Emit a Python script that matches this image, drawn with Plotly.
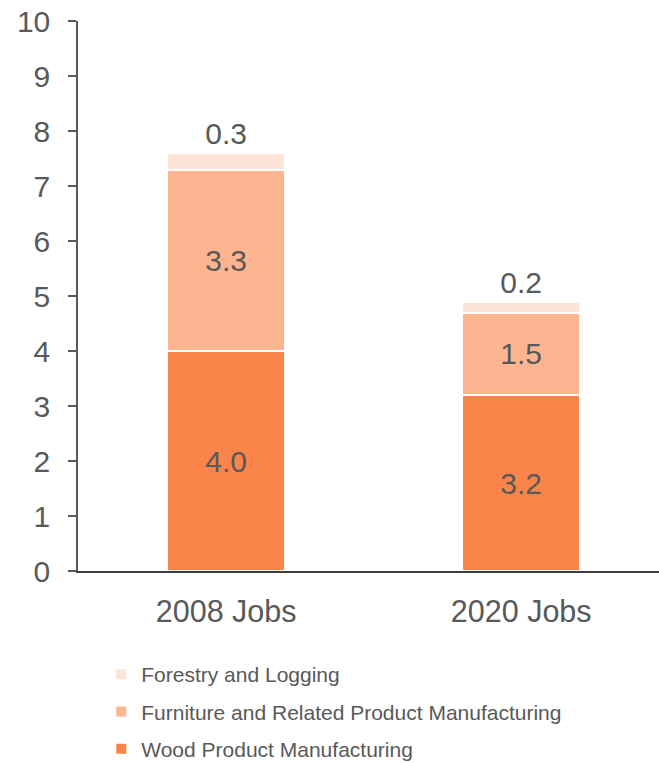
import plotly.graph_objects as go

categories = ["2008 Jobs", "2020 Jobs"]
wood = [4.0, 3.2]
furniture = [3.3, 1.5]
forestry = [0.3, 0.2]

# (name, values, colour, label position, legend rank)
series = [
    ("Wood Product Manufacturing", wood, "#FA844A", "inside", 3),
    ("Furniture and Related Product Manufacturing", furniture, "#FDB490", "inside", 2),
    ("Forestry and Logging", forestry, "#FEE3D7", "outside", 1),
]

text_color = "#595959"
font_family = "Liberation Sans, Arial, sans-serif"

fig = go.Figure()
for name, vals, color, pos, rank in series:
    fig.add_trace(go.Bar(
        x=[0, 1], y=vals, name=name, legendgroup=name, legendrank=rank,
        marker=dict(color=color, line=dict(color="white", width=2)),
        text=[f"{v:.1f}" for v in vals], textposition=pos,
        textfont=dict(size=30, color=text_color, family=font_family),
        insidetextanchor="middle", width=0.4, cliponaxis=False,
    ))

fig.update_layout(
    barmode="stack",
    width=659, height=763,
    margin=dict(l=78, r=0, t=21, b=192, autoexpand=False),
    plot_bgcolor="white", paper_bgcolor="white",
    font=dict(family=font_family, color=text_color),
    showlegend=True,
    legend=dict(
        traceorder="grouped", tracegroupgap=7,
        orientation="v", x=0.04, xanchor="left", y=-0.151, yanchor="top",
        font=dict(size=21, color=text_color, family=font_family),
        itemwidth=30,
    ),
    xaxis=dict(
        range=[-0.502, 1.467], tickvals=[0, 1], ticktext=categories,
        showline=True, linecolor="#404040", linewidth=2,
        ticks="", showgrid=False, zeroline=False, automargin=False,
        tickfont=dict(size=30.5, color=text_color),
        ticklabelstandoff=12,
    ),
    yaxis=dict(
        range=[0, 10], dtick=1, showgrid=False, zeroline=False, automargin=False,
        showline=True, linecolor="#595959", linewidth=1.5,
        ticks="outside", ticklen=8, tickcolor="#595959", tickwidth=1.5,
        tickfont=dict(size=30, color=text_color),
        ticklabelstandoff=12,
    ),
)

fig.write_html("out.html")
